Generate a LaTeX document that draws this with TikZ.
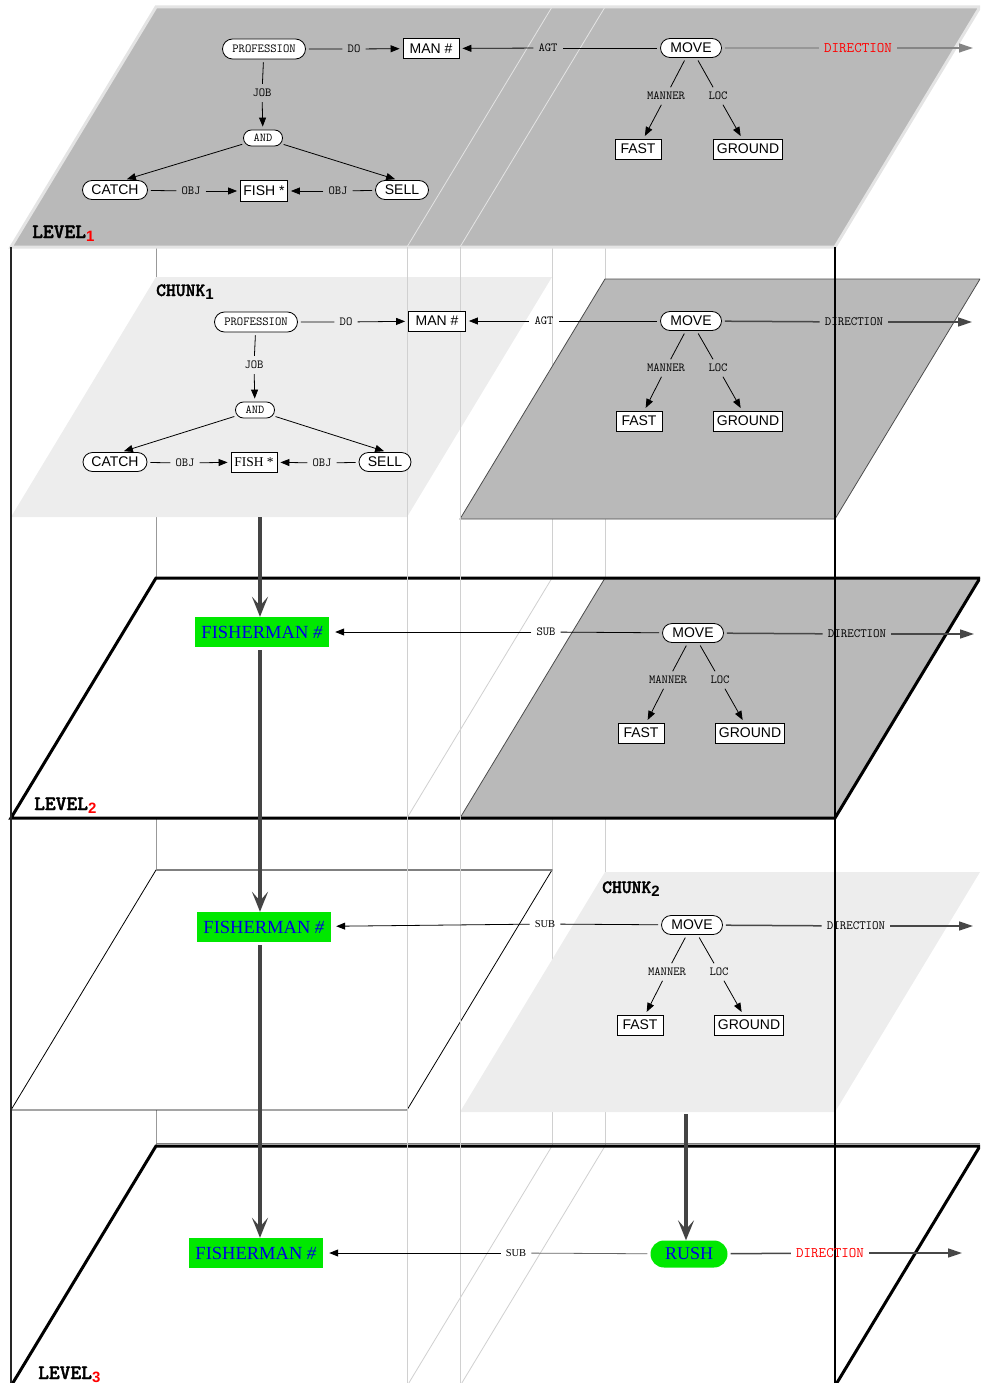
\documentclass[tikz,border=0pt]{standalone}
\usepackage{fontspec}
\setmainfont{Liberation Serif}
\setsansfont{Liberation Sans}
\newfontfamily\heavymono{lmmonolt10-bold.otf}[FakeBold=1.8]
\usetikzlibrary{arrows.meta,shapes.misc}

\definecolor{planegray}{RGB}{185,185,185}
\definecolor{chunkgray}{RGB}{237,237,237}
\definecolor{rimgray}{RGB}{228,228,228}
\definecolor{ghost}{RGB}{208,208,208}
\definecolor{fmgreen}{RGB}{0,232,0}
\definecolor{fmblue}{RGB}{0,0,225}
\definecolor{spinegray}{RGB}{68,68,68}

\newcommand\levsub[2]{\raisebox{-3.5pt}{\sffamily\bfseries\fontsize{15}{15}\selectfont\color{#1}#2}}

\tikzset{
  pill/.style={rounded rectangle, draw, fill=white, inner sep=0pt, line width=0.8pt,
    minimum height=19pt, font=\sffamily\fontsize{14}{14}\selectfont},
  tpill/.style={pill, minimum height=20pt, font=\ttfamily\fontsize{12.3}{12.3}\selectfont},
  andpill/.style={pill, minimum width=39pt, minimum height=16pt, font=\ttfamily\fontsize{12}{12}\selectfont},
  box/.style={rectangle, draw, fill=white, inner sep=0pt, line width=0.8pt,
    minimum height=20pt, font=\sffamily\fontsize{14}{14}\selectfont},
  rellabel/.style={inner sep=2pt, font=\ttfamily\fontsize{12.3}{12.3}\selectfont},
  sublabel/.style={inner sep=2pt, font=\rmfamily\fontsize{10.5}{10.5}\selectfont},
  dirlabel/.style={inner sep=2pt, font=\ttfamily\fontsize{12.6}{12.6}\selectfont},
  reddir/.style={inner sep=2pt, text=red, font=\ttfamily\fontsize{14.6}{14.6}\selectfont},
  link/.style={draw=black, line width=0.8pt, shorten <=3pt, shorten >=3pt},
  relarrow/.style={link, -{Triangle[length=9pt,width=7pt]}},
  dirline/.style={link, draw=black!72, line width=1.5pt},
  dirarrow/.style={dirline, -{Triangle[length=14pt,width=9pt]}},
  fisherbox/.style={fill=fmgreen, text=fmblue, inner sep=0pt, minimum width=134pt,
    minimum height=30pt, font=\rmfamily\fontsize{18.5}{18.5}\selectfont},
  spine/.style={draw=spinegray, line width=4.5pt, -{Stealth[length=20pt,width=16pt,inset=9pt]}},
  levelname/.style={anchor=base west, inner sep=0pt, font=\heavymono\fontsize{20.5}{20.5}\selectfont},
  frontedge/.style={draw=ghost, line width=0.8pt},
}

\begin{document}
\begin{tikzpicture}[x=1pt,y=-1pt]
\useasboundingbox (0,0) rectangle (980,1383);
\clip (0,0) rectangle (980,1383);

% back edges of the stack
\draw[black!40, line width=0.8pt] (156,247) -- (156,1146);
\draw[frontedge] (552,247) -- (552,1146) (605,247) -- (605,1146);

% level 1
\filldraw[fill=planegray, draw=rimgray, line width=3pt] (11,247) -- (156,7) -- (980,7) -- (835,247) -- cycle;
\draw[rimgray, line width=0.8pt] (407,247) -- (552,7) (460,247) -- (605,7);

% chunk 1 and its neighbour
\fill[chunkgray] (11,517) -- (156,277) -- (552,277) -- (407,517) -- cycle;
\filldraw[fill=planegray, draw=black!70, line width=0.8pt] (460,519) -- (605,279) -- (980,279) -- (835,519) -- cycle;

% level 2
\fill[white] (11,818) -- (156,578) -- (980,578) -- (835,818) -- cycle;
\filldraw[fill=planegray, draw=black!70, line width=0.8pt] (460,818) -- (605,578) -- (980,578) -- (835,818) -- cycle;
\draw[frontedge] (407,818) -- (552,578);
\draw[line width=3pt] (11,818) -- (156,578) -- (980,578) -- (835,818) -- cycle;

% chunk 2 and its neighbour
\filldraw[fill=white, line width=0.8pt] (11,1110) -- (156,870) -- (552,870) -- (407,1110) -- cycle;
\draw[black!50, line width=2pt] (156,870) -- (552,870);
\fill[chunkgray] (460,1112) -- (605,872) -- (980,872) -- (835,1112) -- cycle;

% level 3
\fill[white] (11,1386) -- (156,1146) -- (980,1146) -- (835,1386) -- cycle;
\draw[frontedge] (407,1386) -- (552,1146) (460,1386) -- (605,1146);
\draw[black!50, line width=0.8pt] (156,1143.5) -- (980,1143.5);
\draw[line width=3pt] (11,1386) -- (156,1146) -- (980,1146) -- (835,1386);

% front edges of the stack
\draw[black!85, line width=1.6pt] (11,247) -- (11,1383);
\draw[black, line width=1.4pt] (835,247) -- (835,1383);
\draw[frontedge] (407,247) -- (407,1383) (460,247) -- (460,1383);

% level 1 graph
\node[levelname] (level1) at (32,238) {LEVEL\levsub{red}{1}};
\node[tpill, minimum width=83pt] (prof-l1) at (264,49) {PROFESSION};
\node[rellabel] (do-l1) at (354,49) {DO};
\node[box, minimum width=56pt] (man-l1) at (431,48.5) {MAN \#};
\node[rellabel] (job-l1) at (262,93) {JOB};
\node[andpill] (and-l1) at (263,138) {AND};
\node[pill, minimum width=65pt] (catch-l1) at (115,190) {CATCH};
\node[rellabel] (obja-l1) at (191,191) {OBJ};
\node[box, minimum width=47pt, minimum height=21pt] (fish-l1) at (264,191) {FISH *};
\node[rellabel] (objb-l1) at (338,191) {OBJ};
\node[pill, minimum width=53pt] (sell-l1) at (402,190) {SELL};
\node[pill, minimum width=61pt] (move-l1) at (691,48) {MOVE};
\node[rellabel] (agt-l1) at (548,48) {AGT};
\node[reddir] (dir-l1) at (858,48) {DIRECTION};
\coordinate (end-l1) at (976,48);
\node[rellabel] (manner-l1) at (666,96) {MANNER};
\node[rellabel] (loc-l1) at (718,96) {LOC};
\node[box, minimum width=46pt] (fast-l1) at (638,149) {FAST};
\node[box, minimum width=69pt] (ground-l1) at (748,149) {GROUND};

\draw[link] (prof-l1) -- (do-l1);
\draw[relarrow] (do-l1) -- (man-l1);
\draw[link] (prof-l1) -- (job-l1);
\draw[relarrow] (job-l1) -- (and-l1);
\draw[relarrow] (and-l1) -- ([xshift=9pt]catch-l1.north);
\draw[relarrow] (and-l1) -- ([xshift=-4pt]sell-l1.north);
\draw[link] (catch-l1) -- (obja-l1);
\draw[relarrow] (obja-l1) -- (fish-l1);
\draw[link] (sell-l1) -- (objb-l1);
\draw[relarrow] (objb-l1) -- (fish-l1);
\draw[link] (move-l1) -- (agt-l1);
\draw[relarrow] (agt-l1) -- (man-l1);
\draw[link] (move-l1) -- (manner-l1);
\draw[relarrow] (manner-l1) -- (fast-l1);
\draw[link] (move-l1) -- (loc-l1);
\draw[relarrow] (loc-l1) -- (ground-l1);
\draw[dirline, draw=black!48, line width=1.2pt] (move-l1) -- (dir-l1);
\draw[dirarrow, draw=black!48, line width=1.2pt] (dir-l1) -- (end-l1);

% chunk 1 graph
\node[levelname, font=\heavymono\fontsize{18.7}{18.7}\selectfont] (chunk1) at (156,296) {CHUNK\levsub{black}{1}};
\node[tpill, minimum width=83pt] (prof-c1) at (256,322) {PROFESSION};
\node[rellabel] (do-c1) at (346,322) {DO};
\node[box, minimum width=57pt] (man-c1) at (437,321) {MAN \#};
\node[rellabel] (job-c1) at (254,365) {JOB};
\node[andpill] (and-c1) at (255,410) {AND};
\node[pill, minimum width=64pt] (catch-c1) at (115,462) {CATCH};
\node[rellabel] (obja-c1) at (185,463) {OBJ};
\node[box, minimum width=46pt, font=\rmfamily\fontsize{13.5}{13.5}\selectfont] (fish-c1) at (254,462) {FISH *};
\node[rellabel] (objb-c1) at (322,463) {OBJ};
\node[pill, minimum width=52pt] (sell-c1) at (385,462) {SELL};
\node[pill, minimum width=61pt] (move-c1) at (691,321) {MOVE};
\node[rellabel] (agt-c1) at (544,321) {AGT};
\node[dirlabel] (dir-c1) at (854,322) {DIRECTION};
\coordinate (end-c1) at (975,322);
\node[rellabel] (manner-c1) at (666,368) {MANNER};
\node[rellabel] (loc-c1) at (718,368) {LOC};
\node[box, minimum width=46pt] (fast-c1) at (639,421) {FAST};
\node[box, minimum width=69pt] (ground-c1) at (748,421) {GROUND};

\draw[link] (prof-c1) -- (do-c1);
\draw[relarrow] (do-c1) -- (man-c1);
\draw[link] (prof-c1) -- (job-c1);
\draw[relarrow] (job-c1) -- (and-c1);
\draw[relarrow] (and-c1) -- ([xshift=6pt]catch-c1.north);
\draw[relarrow] (and-c1) -- ([xshift=2pt]sell-c1.north);
\draw[link] (catch-c1) -- (obja-c1);
\draw[relarrow] (obja-c1) -- (fish-c1);
\draw[link] (sell-c1) -- (objb-c1);
\draw[relarrow] (objb-c1) -- (fish-c1);
\draw[link] (move-c1) -- (agt-c1);
\draw[relarrow] (agt-c1) -- (man-c1);
\draw[link] (move-c1) -- (manner-c1);
\draw[relarrow] (manner-c1) -- (fast-c1);
\draw[link] (move-c1) -- (loc-c1);
\draw[relarrow] (loc-c1) -- (ground-c1);
\draw[dirline] (move-c1) -- (dir-c1);
\draw[dirarrow] (dir-c1) -- (end-c1);

% level 2 graph
\node[levelname] (level2) at (34,810) {LEVEL\levsub{red}{2}};
\node[fisherbox] (fisher-l2) at (262,632) {FISHERMAN \textit{\#}};
\node[rellabel] (sub-l2) at (546,632) {SUB};
\node[pill, minimum width=61pt] (move-l2) at (693,633) {MOVE};
\node[dirlabel] (dir-l2) at (857,634) {DIRECTION};
\coordinate (end-l2) at (977,634);
\node[rellabel] (manner-l2) at (668,680) {MANNER};
\node[rellabel] (loc-l2) at (720,680) {LOC};
\node[box, minimum width=46pt] (fast-l2) at (641,733) {FAST};
\node[box, minimum width=69pt] (ground-l2) at (750,733) {GROUND};

\draw[link] (move-l2) -- (sub-l2);
\draw[relarrow, shorten >=6pt] (sub-l2) -- (fisher-l2);
\draw[link] (move-l2) -- (manner-l2);
\draw[relarrow] (manner-l2) -- (fast-l2);
\draw[link] (move-l2) -- (loc-l2);
\draw[relarrow] (loc-l2) -- (ground-l2);
\draw[dirline] (move-l2) -- (dir-l2);
\draw[dirarrow] (dir-l2) -- (end-l2);

% chunk 2 graph
\node[levelname, font=\heavymono\fontsize{18.7}{18.7}\selectfont] (chunk2) at (602,893) {CHUNK\levsub{black}{2}};
\node[fisherbox] (fisher-c2) at (264,927) {FISHERMAN \textit{\#}};
\node[sublabel] (sub-c2) at (545,924) {SUB};
\node[pill, minimum width=61pt] (move-c2) at (692,925) {MOVE};
\node[dirlabel] (dir-c2) at (856,926) {DIRECTION};
\coordinate (end-c2) at (976,926);
\node[rellabel] (manner-c2) at (667,972) {MANNER};
\node[rellabel] (loc-c2) at (719,972) {LOC};
\node[box, minimum width=46pt] (fast-c2) at (640,1025) {FAST};
\node[box, minimum width=69pt] (ground-c2) at (749,1025) {GROUND};

\draw[link] (move-c2) -- (sub-c2);
\draw[relarrow, shorten >=5pt] (sub-c2) -- (fisher-c2);
\draw[link] (move-c2) -- (manner-c2);
\draw[relarrow] (manner-c2) -- (fast-c2);
\draw[link] (move-c2) -- (loc-c2);
\draw[relarrow] (loc-c2) -- (ground-c2);
\draw[dirline] (move-c2) -- (dir-c2);
\draw[dirarrow] (dir-c2) -- (end-c2);

% level 3 graph
\node[levelname] (level3) at (38,1379) {LEVEL\levsub{red}{3}};
\node[fisherbox] (fisher-l3) at (256,1253) {FISHERMAN \textit{\#}};
\node[sublabel] (sub-l3) at (516,1253) {SUB};
\node[rounded rectangle, fill=fmgreen, text=fmblue, inner sep=0pt, minimum width=77pt,
  minimum height=27pt, font=\rmfamily\fontsize{18}{18}\selectfont] (rush-l3) at (689,1254) {RUSH};
\node[reddir] (dir-l3) at (830,1253) {DIRECTION};
\coordinate (end-l3) at (965,1253);

\draw[link, draw=black!60] (rush-l3) -- (sub-l3);
\draw[relarrow, shorten >=6pt] (sub-l3) -- (fisher-l3);
\draw[dirline] (rush-l3) -- (dir-l3);
\draw[dirarrow] (dir-l3) -- (end-l3);

% chunks dropping down to the next level
\coordinate (drop-c1) at (260,517);
\coordinate (drop-c2) at (686,1114);
\draw[spine] (drop-c1) -- (drop-c1 |- fisher-l2.north);
\draw[spine, shorten <=3pt] (fisher-l2.south -| drop-c1) -- (fisher-c2.north -| drop-c1);
\draw[spine, shorten <=3pt] (fisher-c2.south -| drop-c1) -- (fisher-l3.north -| drop-c1);
\draw[spine] (drop-c2) -- (drop-c2 |- rush-l3.north);
\end{tikzpicture}
\end{document}
